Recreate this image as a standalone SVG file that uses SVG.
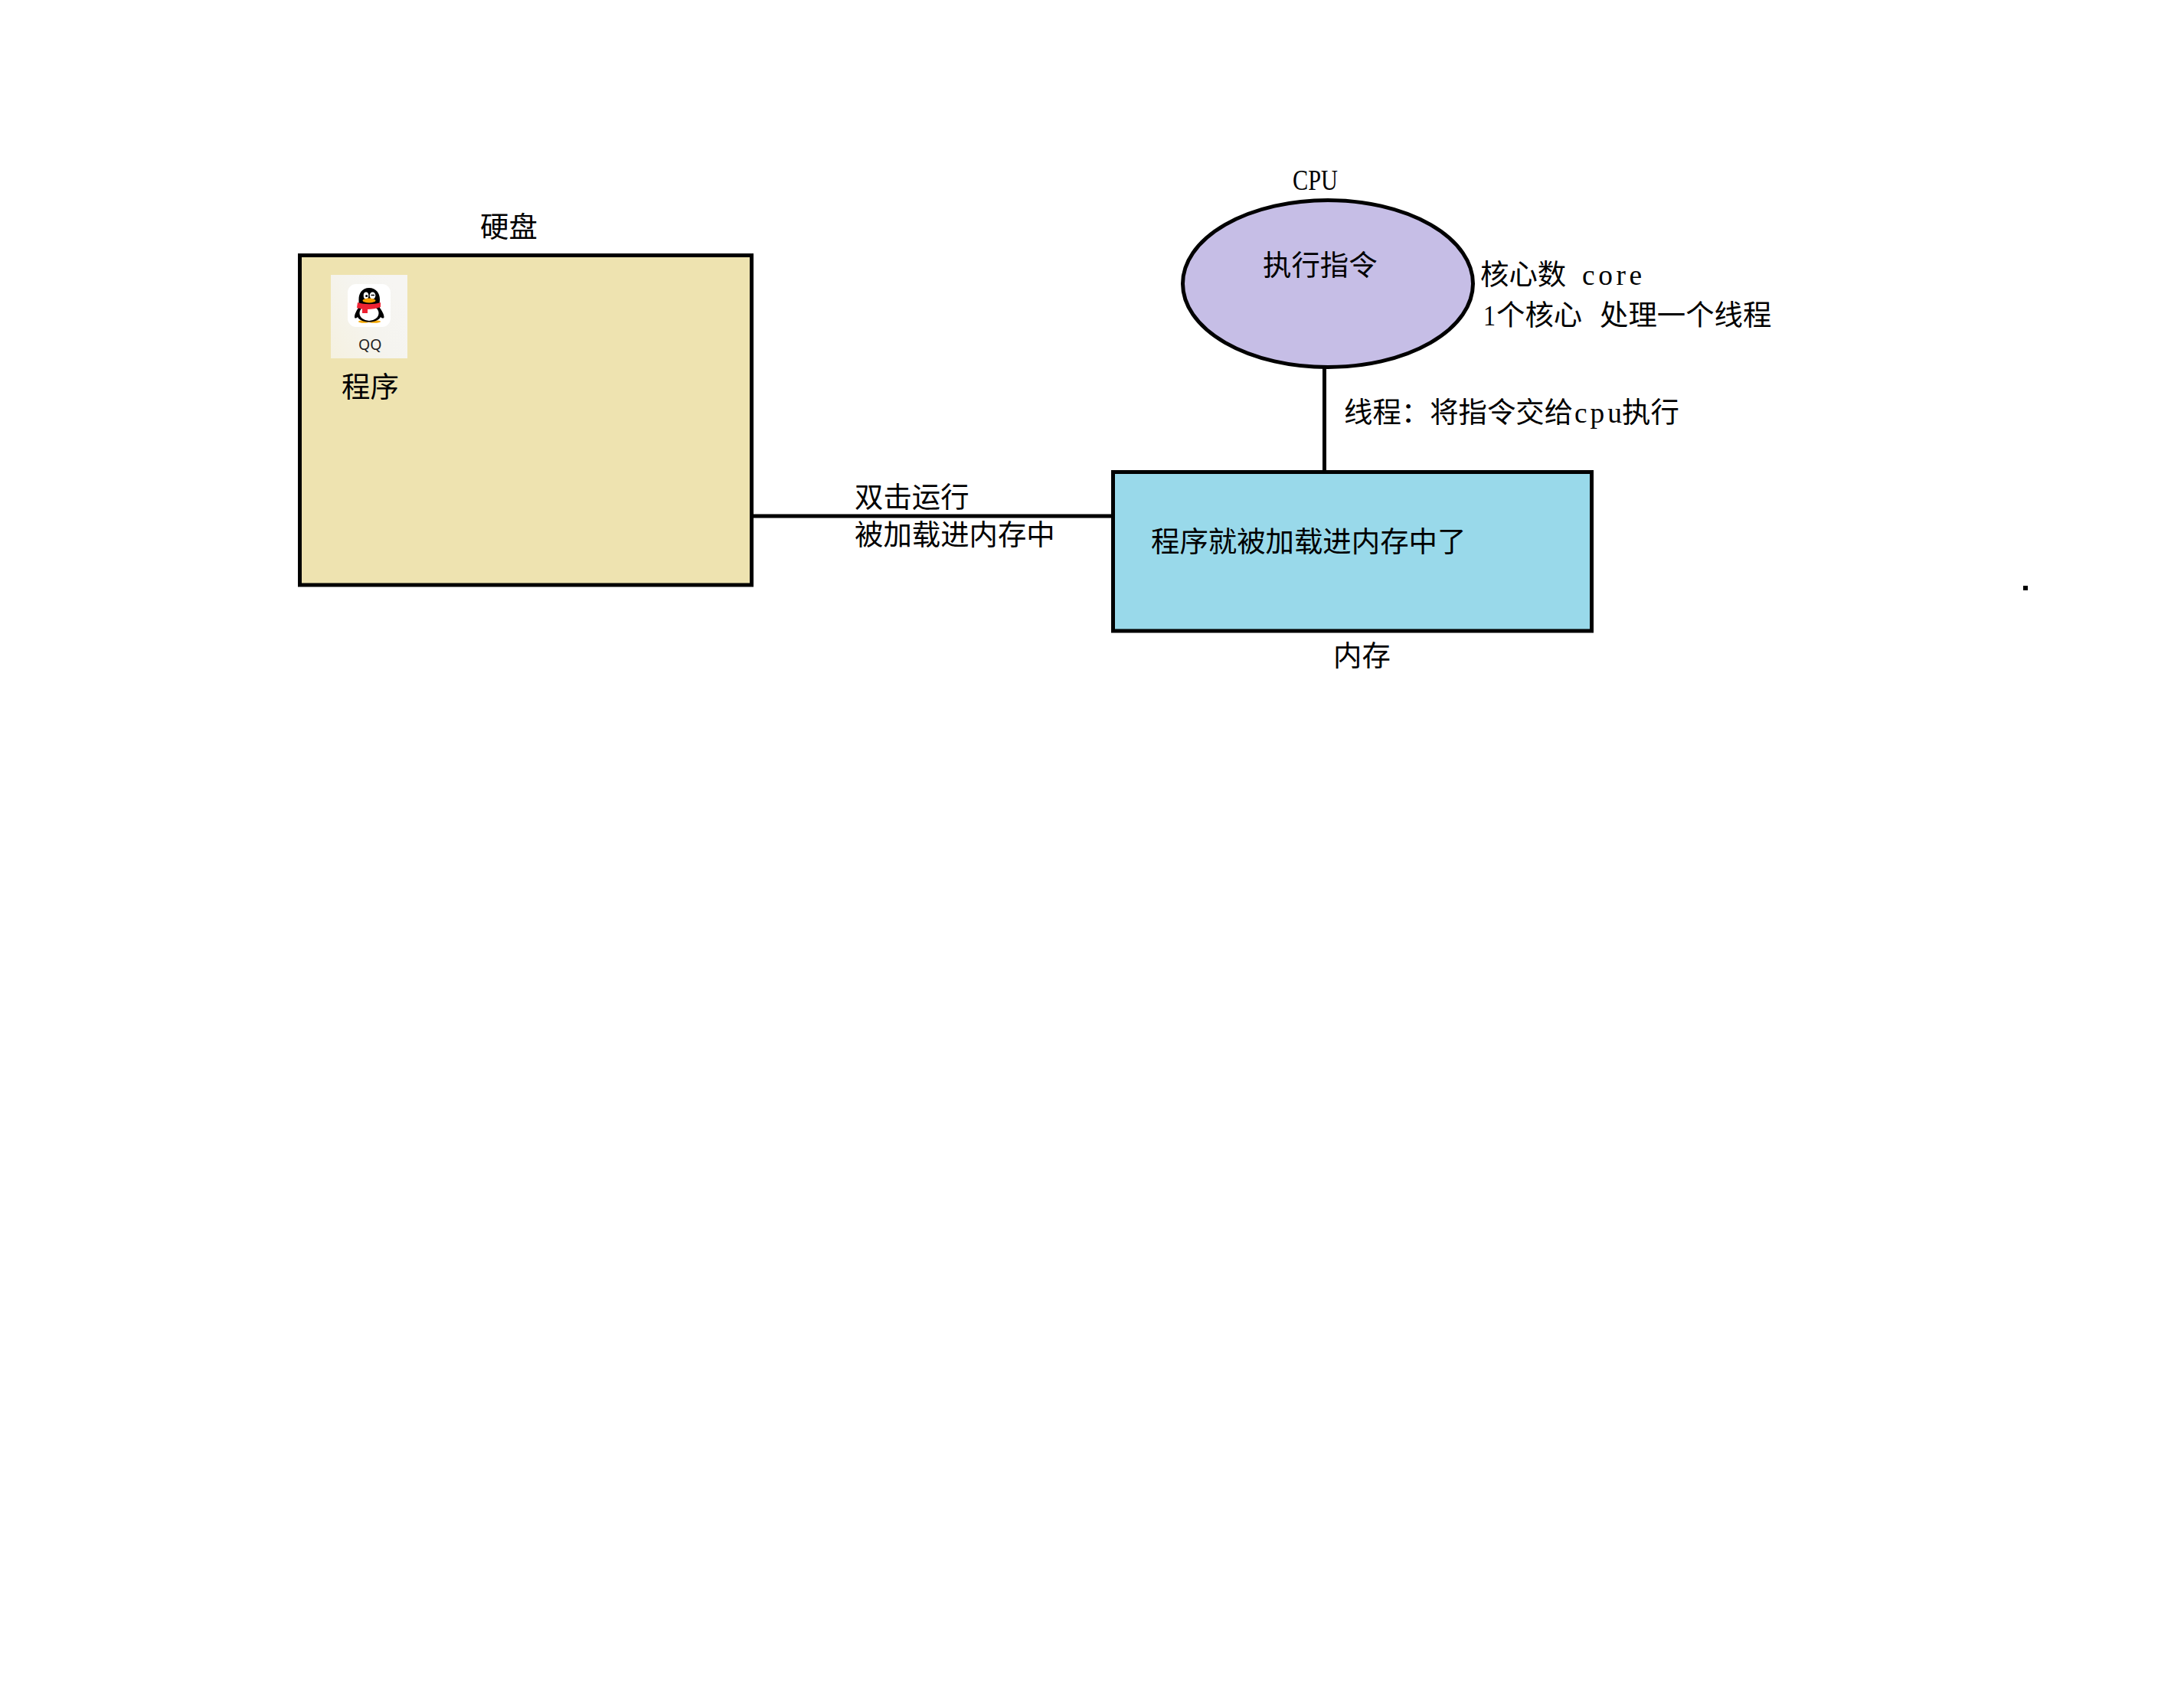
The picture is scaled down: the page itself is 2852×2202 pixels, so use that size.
<svg xmlns="http://www.w3.org/2000/svg" width="2852" height="2202" viewBox="0 0 2852 2202">
<style>
text{font-family:"Noto Sans CJK SC","Liberation Serif",sans-serif;font-size:37.400px;fill:#000}
.lat{font-family:"Liberation Serif","Noto Sans CJK SC",serif}
.shape{stroke:#000;stroke-width:5}
.wire{stroke:#000;stroke-width:5;fill:none}
</style>
<defs>
<linearGradient id="iconBg" x1="0" y1="1" x2="1" y2="0.4"><stop offset="0" stop-color="#F5F1E0"/><stop offset="0.6" stop-color="#F5F4EF"/><stop offset="1" stop-color="#F6F5F2"/></linearGradient>
</defs>
<rect width="2852" height="2202" fill="#fff"/>
<g id="connectors">
<path class="wire" d="M984 674H1451"/>
<path class="wire" d="M1729.500 480V614"/>
</g>
<g id="disk">
<rect class="shape" x="391.500" y="333.500" width="590" height="430.500" fill="#EEE3B0"/>
<text x="627" y="310">硬盘</text>
</g>
<g id="qq-icon">
<rect x="432" y="359" width="100" height="109" fill="url(#iconBg)"/>
<rect x="454" y="371" width="56" height="56" rx="11" fill="#fff"/>
<ellipse cx="475" cy="420" rx="7" ry="1.700" fill="#F5A800"/>
<ellipse cx="489" cy="420" rx="8" ry="1.700" fill="#F5A800"/>
<path d="M482 376C473 376 468.500 383 468.500 391C468.500 396 469 398 468 402C466 405 463 410 463 414C463 416 465 416 467 414C469 418 475 420.500 482 420.500C489 420.500 495 418 497 414C499 416 501.500 416 501.500 414C501.500 410 498 405 496 402C495 398 496 395 496 391C496 383 491 376 482 376Z" fill="#000"/>
<ellipse cx="482" cy="409" rx="12.500" ry="10" fill="#fff"/>
<path d="M467 395C476 398 488 398 497 395L497 401C492 403 485 404 480 404V409H473V403.500C470 403 468 402.500 466 402Z" fill="#EE2233"/>
<ellipse cx="478" cy="386" rx="3.300" ry="4.500" fill="#fff"/>
<ellipse cx="486.500" cy="386" rx="3.800" ry="4.500" fill="#fff"/>
<circle cx="478.700" cy="386.500" r="1.600" fill="#000"/>
<path d="M484.500 385.500H489" stroke="#000" stroke-width="1.500"/>
<ellipse cx="482" cy="392.500" rx="8.500" ry="3" fill="#F5A000"/>
<text x="468" y="457" style="font-family:'Noto Sans','Liberation Sans',sans-serif;font-size:19.500px;fill:#222">QQ</text>
</g>
<g id="program">
<text x="446" y="519">程序</text>
</g>
<g id="edge-label">
<text x="1116" y="663">双击运行</text>
<text x="1116" y="712">被加载进内存中</text>
</g>
<g id="memory">
<rect class="shape" x="1453.500" y="616.500" width="625" height="207.500" fill="#99D9EA"/>
<text x="1503" y="721">程序就被加载进内存中了</text>
<text x="1741" y="870">内存</text>
</g>
<g id="cpu">
<ellipse class="shape" cx="1734" cy="370.500" rx="189.500" ry="109" fill="#C6BEE6"/>
<text class="lat" x="1688" y="248" textLength="59" lengthAdjust="spacingAndGlyphs">CPU</text>
<text x="1649" y="360">执行指令</text>
</g>
<g id="core-note">
<text x="1933" y="372">核心数<tspan class="lat" x="2066" textLength="78" lengthAdjust="spacing">core</tspan></text>
<text x="1937" y="425"><tspan class="lat" textLength="16" lengthAdjust="spacingAndGlyphs">1</tspan><tspan x="1954">个核心</tspan><tspan x="2089">处理一个线程</tspan></text>
</g>
<g id="thread-note">
<text x="1755" y="552">线程：将指令交给<tspan class="lat" x="2056" textLength="62" lengthAdjust="spacing">cpu</tspan><tspan x="2118">执行</tspan></text>
</g>
<rect id="dot" x="2642" y="765" width="6" height="6" fill="#000"/>
</svg>
